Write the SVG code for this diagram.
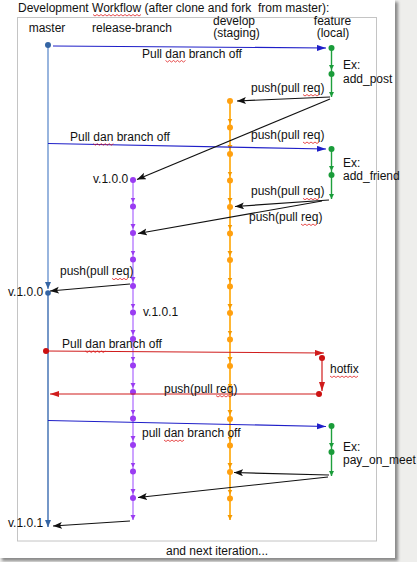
<svg xmlns="http://www.w3.org/2000/svg" width="417" height="562" viewBox="0 0 417 562">
<style>
text{font-family:"Liberation Sans",Arial,sans-serif;font-size:12px;fill:#111}
.c{text-anchor:middle}
.blk{stroke:#111;stroke-width:1.2;fill:none;marker-end:url(#ab)}
.blu{stroke:#1f1fc8;stroke-width:1.2;fill:none;marker-end:url(#abl)}
.red{stroke:#d01c1c;stroke-width:1.2;fill:none;marker-end:url(#ar)}
.sq{stroke:#e02020;stroke-width:0.8;fill:none}
.rel{stroke:#c08cff;stroke-width:1.6;fill:none;marker-mid:url(#mp);marker-end:url(#mp)}
.dev{stroke:#ffa500;stroke-width:1.6;fill:none;marker-mid:url(#mo);marker-end:url(#mo)}
.fea{stroke:#1ea03c;stroke-width:1.4;fill:none;marker-mid:url(#mg);marker-end:url(#mg)}
.dp{fill:#9a3cf2}.do{fill:#ffa010}.dg{fill:#1a9c3a}.dr{fill:#cc1010}.db{fill:#3465a4}
</style>
<defs>
<marker id="ab" markerUnits="userSpaceOnUse" markerWidth="10" markerHeight="8" refX="9" refY="3.5" orient="auto"><path d="M0,0 L9,3.5 L0,7 L2,3.5z" fill="#111"/></marker>
<marker id="abl" markerUnits="userSpaceOnUse" markerWidth="10" markerHeight="8" refX="9" refY="3" orient="auto"><path d="M0,0 L9,3 L0,6z" fill="#1f1fc8"/></marker>
<marker id="ar" markerUnits="userSpaceOnUse" markerWidth="10" markerHeight="8" refX="9" refY="3" orient="auto"><path d="M0,0 L9,3 L0,6z" fill="#d01c1c"/></marker>
<marker id="mp" markerUnits="userSpaceOnUse" markerWidth="6" markerHeight="6" refX="5" refY="2.5" orient="auto"><path d="M0,0 L5,2.5 L0,5z" fill="#9a3cf2"/></marker>
<marker id="mo" markerUnits="userSpaceOnUse" markerWidth="6" markerHeight="6" refX="5" refY="2.5" orient="auto"><path d="M0,0 L5,2.5 L0,5z" fill="#f59a00"/></marker>
<marker id="mg" markerUnits="userSpaceOnUse" markerWidth="6" markerHeight="6" refX="5" refY="2.5" orient="auto"><path d="M0,0 L5,2.5 L0,5z" fill="#1a9c3a"/></marker>
<marker id="mb" markerUnits="userSpaceOnUse" markerWidth="8" markerHeight="8" refX="7" refY="3" orient="auto"><path d="M0,0 L7,3 L0,6z" fill="#3465a4"/></marker>
<filter id="sh" x="-5%" y="-5%" width="110%" height="110%"><feGaussianBlur stdDeviation="1.5"/></filter>
</defs>
<rect x="0" y="0" width="417" height="562" fill="#eeeeec"/>
<rect x="2" y="2" width="396" height="559" fill="#8a8a8a" filter="url(#sh)"/>
<rect x="0" y="0" width="395" height="558" fill="#ffffff"/>
<rect x="17.5" y="17.5" width="359" height="523.5" fill="none" stroke="#c4c4c4" stroke-width="1"/>

<text x="18" y="12" xml:space="preserve" style="white-space:pre">Development Workflow (after clone and fork  from master):</text>

<g id="master">
<text class="c" x="47" y="31.5">master</text>
<line x1="48" y1="45" x2="48" y2="289" stroke="#7fa3d6" stroke-width="1.6" marker-end="url(#mb)"/>
<line x1="48" y1="293" x2="48" y2="527" stroke="#3a6bb0" stroke-width="1.4" marker-end="url(#mb)"/>
<circle class="db" cx="48" cy="45" r="3"/>
<circle class="db" cx="48" cy="293" r="2.8"/>
<text x="8" y="296">v.1.0.0</text>
<text x="8" y="527">v.1.0.1</text>
</g>

<g id="release-branch">
<text class="c" x="132" y="31.5">release-branch</text>
<polyline class="rel" points="133,180 133,202.5 133,229 133,255.5 133,282 133,308.5 133,335 133,361.5 133,388 133,414.5 133,441 133,467.5 133,494 133,520"/>
<g class="dp">
<circle cx="133" cy="180" r="3"/><circle cx="133" cy="206.5" r="3"/><circle cx="133" cy="233" r="3"/><circle cx="133" cy="259.5" r="3"/><circle cx="133" cy="286" r="3"/><circle cx="133" cy="312.5" r="3"/><circle cx="133" cy="339" r="3"/><circle cx="133" cy="365.5" r="3"/><circle cx="133" cy="392" r="3"/><circle cx="133" cy="418.5" r="3"/><circle cx="133" cy="445" r="3"/><circle cx="133" cy="471.5" r="3"/><circle cx="133" cy="498" r="3"/>
</g>
<text x="93" y="182.5">v.1.0.0</text>
<text x="143" y="316">v.1.0.1</text>
</g>

<g id="develop">
<text class="c" x="234" y="24.5">develop</text>
<text class="c" x="236.5" y="37">(staging)</text>
<polyline class="dev" points="230,101 230,123.5 230,150 230,176.5 230,203 230,229.5 230,256 230,282.5 230,309 230,335.5 230,362 230,388.5 230,415 230,441.5 230,468 230,494.5 230,520"/>
<g class="do">
<circle cx="230" cy="101" r="3"/><circle cx="230" cy="127.5" r="3"/><circle cx="230" cy="154" r="3"/><circle cx="230" cy="180.5" r="3"/><circle cx="230" cy="207" r="3"/><circle cx="230" cy="233.5" r="3"/><circle cx="230" cy="260" r="3"/><circle cx="230" cy="286.5" r="3"/><circle cx="230" cy="313" r="3"/><circle cx="230" cy="339.5" r="3"/><circle cx="230" cy="366" r="3"/><circle cx="230" cy="419" r="3"/><circle cx="230" cy="445.5" r="3"/><circle cx="230" cy="472" r="3"/><circle cx="230" cy="498.5" r="3"/>
</g>
</g>

<g id="feature">
<text class="c" x="332.5" y="24.5">feature</text>
<text class="c" x="333" y="37">(local)</text>
<polyline class="fea" points="331.5,48 331.5,70 331.5,97"/>
<polyline class="fea" points="331.5,149 331.5,171 331.5,199"/>
<polyline class="fea" points="331.5,426 331.5,448 331.5,476"/>
<g class="dg">
<circle cx="331.5" cy="48" r="3"/><circle cx="331.5" cy="74" r="3"/>
<circle cx="331.5" cy="149" r="3"/><circle cx="331.5" cy="175" r="3"/>
<circle cx="331.5" cy="426" r="3"/><circle cx="331.5" cy="452" r="3"/>
</g>
<text x="343" y="69">Ex:</text>
<text x="343" y="82.5">add_post</text>
<text x="343" y="166.5">Ex:</text>
<text x="343" y="180">add_friend</text>
<text x="343" y="450.5">Ex:</text>
<text x="343" y="464">pay_on_meet</text>
</g>

<g id="hotfix">
<circle class="dr" cx="322" cy="358" r="3"/>
<circle class="dr" cx="319" cy="394" r="3"/>
<text x="330" y="373">hotfix</text>
</g>

<g id="connectors">
<path class="blu" d="M53,46 L326,48"/>
<path class="blu" d="M48,143.5 L326,149"/>
<path class="blu" d="M48,420.5 L326,426.5"/>
<path class="blk" d="M330,97 L237,101"/>
<path class="blk" d="M330,99 L137,179.5"/>
<path class="blk" d="M329,200 L235,206.5"/>
<path class="blk" d="M322,201 L138,233.5"/>
<path class="blk" d="M130,284 L50,291"/>
<path class="blk" d="M329,475 L234,472.5"/>
<path class="blk" d="M328,477 L138,497.5"/>
<path class="blk" d="M130,521 L53,526"/>
<path class="red" d="M46,351 L324,353"/>
<path class="red" d="M322,358 L322,391"/>
<path class="red" d="M319,394 L50,394"/>
<circle class="dr" cx="46" cy="351" r="3"/>
</g>

<g id="labels">
<text x="142" y="57.5">Pull dan branch off</text>
<text x="251" y="91.5">push(pull req)</text>
<text x="70" y="140.7">Pull dan branch off</text>
<text x="251" y="139">push(pull req)</text>
<text x="251" y="195.3">push(pull req)</text>
<text x="249" y="221">push(pull req)</text>
<text x="60" y="275.3">push(pull req)</text>
<text x="62" y="348">Pull dan branch off</text>
<text x="164" y="392.5">push(pull req)</text>
<text x="142" y="437">pull dan branch off</text>
<text x="166" y="554.5">and next iteration...</text>
</g>

<g id="spellcheck">
<path class="sq" d="M93,14.5 l2,1.5 l2,-1.5 l2,1.5 l2,-1.5 l2,1.5 l2,-1.5 l2,1.5 l2,-1.5 l2,1.5 l2,-1.5 l2,1.5 l2,-1.5 l2,1.5 l2,-1.5 l2,1.5 l2,-1.5 l2,1.5 l2,-1.5 l2,1.5 l2,-1.5 l2,1.5 l2,-1.5 l2,1.5 l2,-1.5"/>
<path class="sq" d="M165.5,60.5 l2,1.5 l2,-1.5 l2,1.5 l2,-1.5 l2,1.5 l2,-1.5 l2,1.5 l2,-1.5 l2,1.5 l2,-1.5"/>
<path class="sq" d="M303,94.5 l2,1.5 l2,-1.5 l2,1.5 l2,-1.5 l2,1.5 l2,-1.5 l2,1.5 l2,-1.5"/>
<path class="sq" d="M93.3,143.7 l2,1.5 l2,-1.5 l2,1.5 l2,-1.5 l2,1.5 l2,-1.5 l2,1.5 l2,-1.5 l2,1.5 l2,-1.5"/>
<path class="sq" d="M303,142 l2,1.5 l2,-1.5 l2,1.5 l2,-1.5 l2,1.5 l2,-1.5 l2,1.5 l2,-1.5"/>
<path class="sq" d="M303,198.3 l2,1.5 l2,-1.5 l2,1.5 l2,-1.5 l2,1.5 l2,-1.5 l2,1.5 l2,-1.5"/>
<path class="sq" d="M301,224 l2,1.5 l2,-1.5 l2,1.5 l2,-1.5 l2,1.5 l2,-1.5 l2,1.5 l2,-1.5"/>
<path class="sq" d="M112,278.3 l2,1.5 l2,-1.5 l2,1.5 l2,-1.5 l2,1.5 l2,-1.5 l2,1.5 l2,-1.5"/>
<path class="sq" d="M85.3,351 l2,1.5 l2,-1.5 l2,1.5 l2,-1.5 l2,1.5 l2,-1.5 l2,1.5 l2,-1.5 l2,1.5 l2,-1.5"/>
<path class="sq" d="M330,376 l2,1.5 l2,-1.5 l2,1.5 l2,-1.5 l2,1.5 l2,-1.5 l2,1.5 l2,-1.5 l2,1.5 l2,-1.5 l2,1.5 l2,-1.5 l2,1.5 l2,-1.5"/>
<path class="sq" d="M216,395.5 l2,1.5 l2,-1.5 l2,1.5 l2,-1.5 l2,1.5 l2,-1.5 l2,1.5 l2,-1.5"/>
<path class="sq" d="M164,440 l2,1.5 l2,-1.5 l2,1.5 l2,-1.5 l2,1.5 l2,-1.5 l2,1.5 l2,-1.5 l2,1.5 l2,-1.5"/>
</g>
</svg>
